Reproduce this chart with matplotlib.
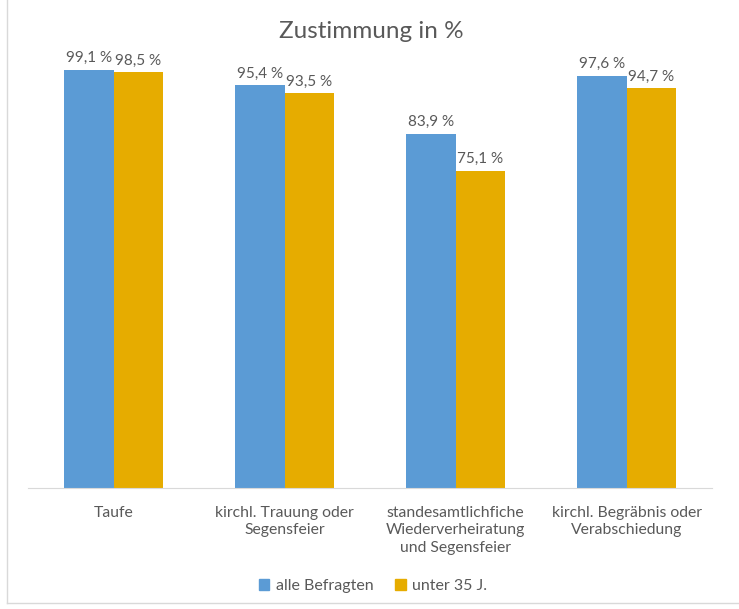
import matplotlib
matplotlib.use("Agg")
import matplotlib.pyplot as plt
import numpy as np
from matplotlib.patches import Patch
from matplotlib.lines import Line2D

plt.rcParams['font.family'] = ['Lato', 'DejaVu Sans']

categories = ["Taufe", "kirchl. Trauung oder\nSegensfeier",
              "standesamtlichfiche\nWiederverheiratung\nund Segensfeier",
              "kirchl. Begräbnis oder\nVerabschiedung"]
series_names = ["alle Befragten", "unter 35 J."]
alle = [99.1, 95.4, 83.9, 97.6]
unter35 = [98.5, 93.5, 75.1, 94.7]
colors = ["#5B9BD5", "#E6AC00"]
text_color = "#595959"

fig = plt.figure(figsize=(7.39, 6.09), dpi=100)
ax = fig.add_axes([28/739, 1-488/609, (712-28)/739, (488-66)/609])

x = np.arange(len(categories))
w = 0.29
b1 = ax.bar(x - w/2, alle, w, color=colors[0])
b2 = ax.bar(x + w/2, unter35, w, color=colors[1])

def fmt(v):
    return f"{v:.1f} %".replace(".", ",")

for bars, vals in ((b1, alle), (b2, unter35)):
    for r, v in zip(bars, vals):
        ax.annotate(fmt(v), (r.get_x() + r.get_width()/2, v), xytext=(0, 3.5),
                    textcoords="offset points", ha="center", va="bottom",
                    fontsize=11, color=text_color)

ax.set_xlim(-0.5, len(categories) - 0.5)
ax.set_ylim(0, 100)
ax.set_xticks(x)
ax.set_xticklabels(categories, fontsize=11.3, color=text_color, linespacing=1.3)
ax.tick_params(axis="x", length=0, pad=13)
ax.set_yticks([])
for s in ("left", "top", "right"):
    ax.spines[s].set_visible(False)
ax.spines["bottom"].set_color("#D9D9D9")

fig.text(371/739, 1-32/609, "Zustimmung in %", ha="center", va="center",
         fontsize=17.5, color=text_color)

handles = [Patch(color=c) for c in colors]
fig.legend(handles, series_names, loc="center", bbox_to_anchor=(373/739, 1-586/609),
           ncol=2, frameon=False, fontsize=11.5, handlelength=0.65, handleheight=0.65,
           handletextpad=0.4, columnspacing=1.4, labelcolor=text_color)

# chart border (partially visible)
fig.add_artist(Line2D([7/739, 7/739], [1-603/609, 1.0], color="#D9D9D9", lw=1))
fig.add_artist(Line2D([7/739, 1.0], [1-603/609, 1-603/609], color="#D9D9D9", lw=1))

fig.savefig("out.png", dpi=100, facecolor="white")
